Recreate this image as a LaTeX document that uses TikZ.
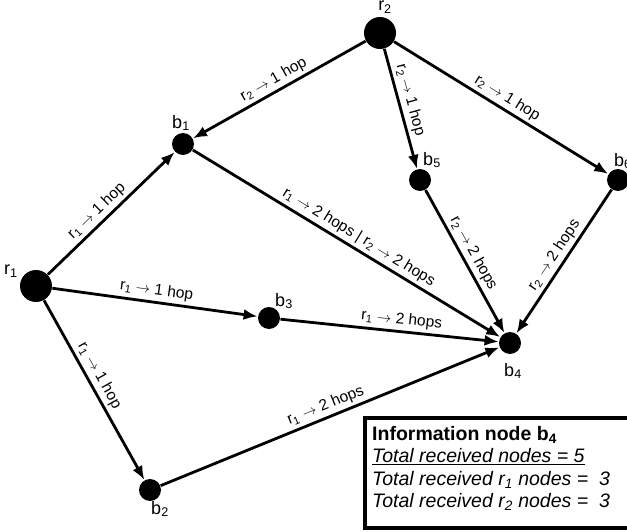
\documentclass[tikz,border=0pt]{standalone}
\usepackage{fontspec}
\setmainfont{Liberation Sans}
\usetikzlibrary{arrows.meta}
\begin{document}
\begin{tikzpicture}[x=1pt,y=-1pt,
  hub/.style={circle,fill=black,draw=none,minimum size=32pt,inner sep=0pt,outer sep=0.5pt},
  relay/.style={circle,fill=black,draw=none,minimum size=22pt,inner sep=0pt,outer sep=0.5pt},
  nlbl/.style={font=\fontsize{18}{20}\selectfont,inner sep=0pt},
  link/.style={line width=2.8pt,-{Latex[length=14pt,width=11pt]}},
  elbl/.style={font=\fontsize{15.5}{17}\selectfont,sloped,above,inner sep=3pt}]
\useasboundingbox (0,0) rectangle (627,532);
\node[hub] (r1) at (36,286) {};
\node[hub] (r2) at (380,33) {};
\node[relay] (b1) at (183,144) {};
\node[relay] (b5) at (420,180) {};
\node[relay] (b6) at (618,180) {};
\node[relay] (b3) at (269,318) {};
\node[relay] (b4) at (510,343) {};
\node[relay] (b2) at (150,490) {};
\node[nlbl,anchor=north] (lr2) at (385,1) {r\textsubscript{2}};
\node[nlbl] (lr1) at (11,271) {r\textsubscript{1}};
\node[nlbl] (lb1) at (181,123) {b\textsubscript{1}};
\node[nlbl] (lb5) at (432,160) {b\textsubscript{5}};
\node[nlbl,anchor=west] (lb6) at (614,161) {b\textsubscript{6}};
\node[nlbl] (lb3) at (284,301) {b\textsubscript{3}};
\node[nlbl] (lb4) at (513,371) {b\textsubscript{4}};
\node[nlbl] (lb2) at (160,509) {b\textsubscript{2}};
\draw[link] (r1) -- node[elbl,pos=0.45] {r\textsubscript{1} $\rightarrow$ 1 hop} (b1);
\draw[link] (r1) -- node[elbl,pos=0.5] {r\textsubscript{1} $\rightarrow$ 1 hop} (b3);
\draw[link] (r1) -- node[elbl,pos=0.45] {r\textsubscript{1} $\rightarrow$ 1 hop} (b2);
\draw[link] (r2) -- node[elbl,pos=0.5] {r\textsubscript{2} $\rightarrow$ 1 hop} (b1);
\draw[link] (r2) -- node[elbl,pos=0.45] {r\textsubscript{2} $\rightarrow$ 1 hop} (b5);
\draw[link] (r2) -- node[elbl,pos=0.5] {r\textsubscript{2} $\rightarrow$ 1 hop} (b6);
\draw[link] (b1) -- node[elbl,pos=0.52] {r\textsubscript{1} $\rightarrow$ 2 hops | r\textsubscript{2} $\rightarrow$ 2 hops} (b4);
\draw[link] (b5) -- node[elbl,pos=0.48] {r\textsubscript{2} $\rightarrow$ 2 hops} (b4);
\draw[link] (b6) -- node[elbl,pos=0.5] {r\textsubscript{2} $\rightarrow$ 2 hops} (b4);
\draw[link] (b3) -- node[elbl,pos=0.55] {r\textsubscript{1} $\rightarrow$ 2 hops} (b4);
\draw[link] (b2) -- node[elbl,pos=0.5] {r\textsubscript{1} $\rightarrow$ 2 hops} (b4);
\draw[line width=3.5pt] (365,418) rectangle (660,528);
\node[anchor=north west,align=left,inner sep=0pt,font=\fontsize{19.5}{22.5}\selectfont] (info) at (372,426)
 {\textbf{Information node b\textsubscript{4}}\\
  \textit{\underline{Total received nodes = 5}}\\
  \textit{Total received r\textsubscript{1} nodes =\ \ 3}\\
  \textit{Total received r\textsubscript{2} nodes =\ \ 3}};
\end{tikzpicture}
\end{document}
